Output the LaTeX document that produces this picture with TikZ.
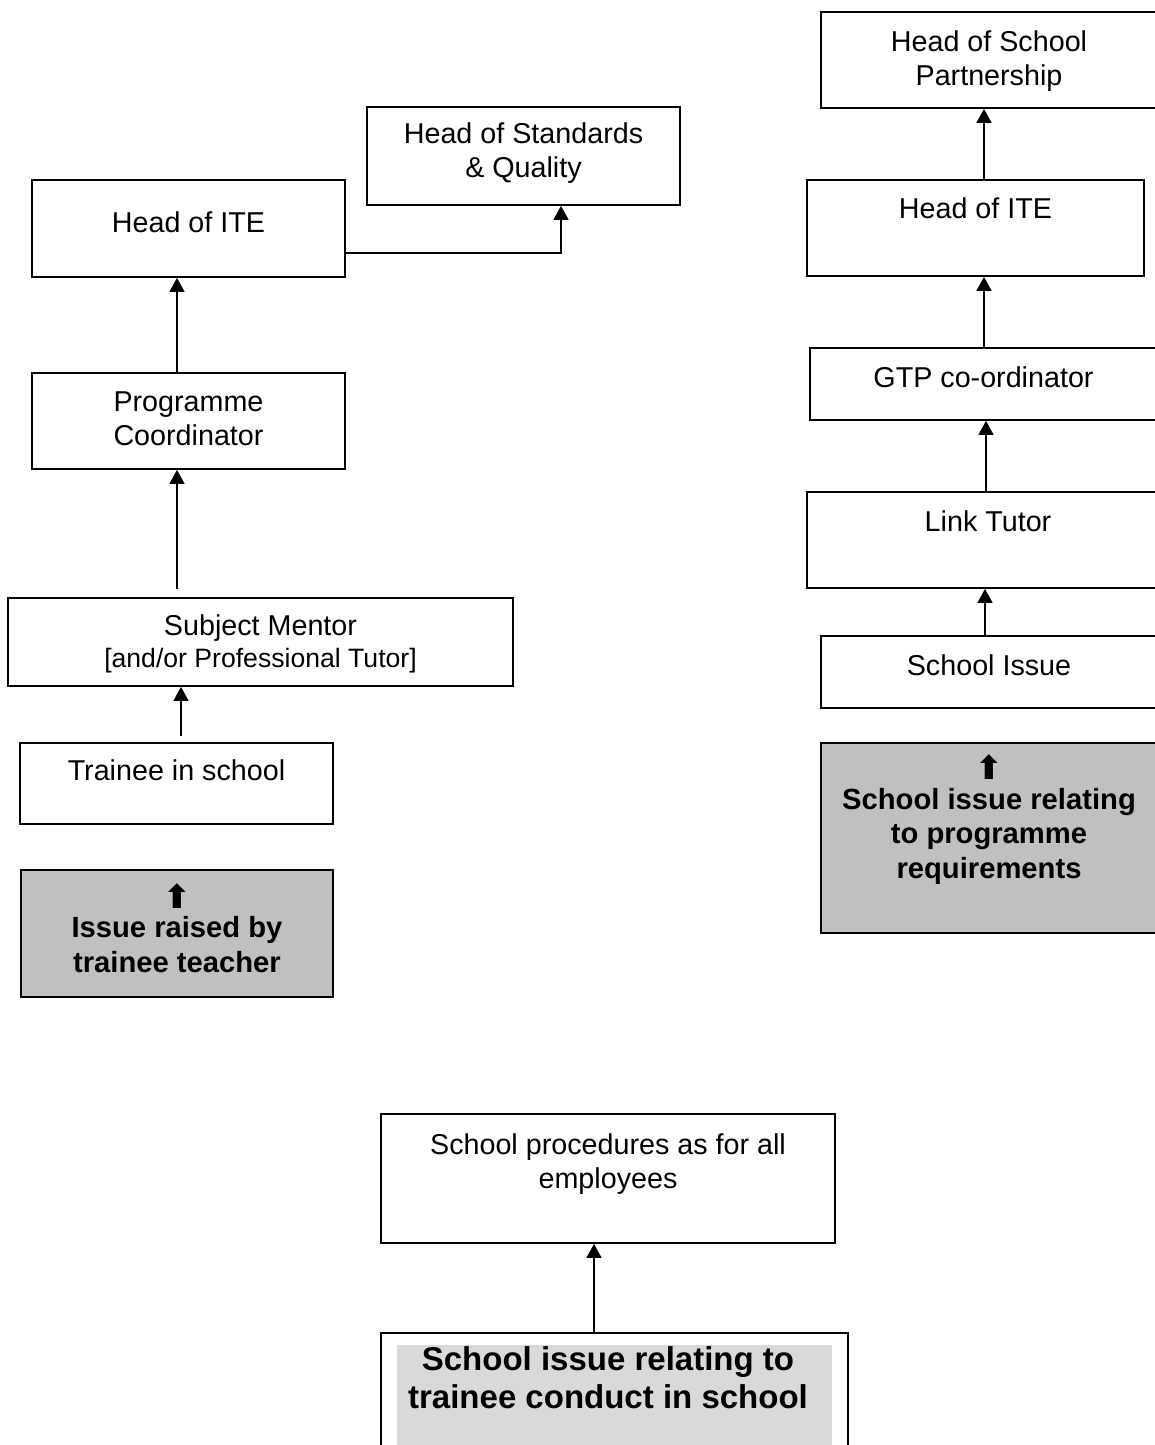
\documentclass[tikz,border=0pt]{standalone}
\usepackage{fontspec}
\setmainfont{Liberation Sans}
\newfontfamily\arrowfont{DejaVu Sans}
\usepackage{tikz}
\usetikzlibrary{arrows.meta,calc,positioning}

\definecolor{shade}{RGB}{192,192,192}
\definecolor{paleshade}{RGB}{217,217,217}

\tikzset{
  box/.style={draw, line width=1.8pt, inner sep=0pt},
  greybox/.style={box, fill=shade},
  txt/.style={anchor=base, align=center, inner sep=0pt, font=\fontsize{28.7}{34}\selectfont},
  boldtxt/.style={txt, font=\fontsize{29.2}{34.5}\selectfont\bfseries},
  link/.style={->, line width=1.6pt},
}
\newcommand{\uparr}{{\arrowfont\fontsize{33}{34}\selectfont ⬆}}

\begin{document}
\begin{tikzpicture}[x=1pt, y=-1pt, >={Triangle[length=14pt,width=15pt]}]
  \path[use as bounding box, clip] (0,0) rectangle (1155,1445);

  % left column: issue raised by trainee
  \node[box, minimum width=313pt, minimum height=98pt] (hsq) at (523.5,156) {};
  \node[txt] (hsqtxt) at (523.5,177) {Head of Standards\\\& Quality};
  \node[box, minimum width=313pt, minimum height=97pt] (hitel) at (188.5,228.5) {};
  \node[txt] (hiteltxt) at (188.5,232) {Head of ITE};
  \node[box, minimum width=313pt, minimum height=96pt] (pc) at (188.5,421) {};
  \node[txt] (pctxt) at (188.5,445) {Programme\\Coordinator};
  \node[box, minimum width=505pt, minimum height=88pt] (sm) at (260.5,642) {};
  \node[txt] (smtxt) at (260.5,667) {Subject Mentor\\[-2pt]{\fontsize{26.6}{32}\selectfont [and/or Professional Tutor]}};
  \node[box, minimum width=313pt, minimum height=81pt] (tr) at (176.5,783.5) {};
  \node[txt] (trtxt) at (176.5,780) {Trainee in school};
  \node[greybox, minimum width=312pt, minimum height=127pt] (isl) at (177,933.5) {};
  \node[boldtxt] (isltxt) at (177,972) {\uparr\\[-5pt]Issue raised by\\trainee teacher};

  \draw[link] ([yshift=-24.5pt]hitel.east) -| (hsq.south -| 561,0);
  \draw[link] (pc.north -| 177,0) -- (hitel.south -| 177,0);
  \draw[link] ([yshift=8pt]sm.north -| 177,0) -- (pc.south -| 177,0);
  \draw[link] ([yshift=6pt]tr.north -| 181,0) -- (sm.south -| 181,0);

  % right column: school issue on programme requirements
  \node[box, minimum width=336pt, minimum height=96pt] (hsp) at (989,60) {};
  \node[txt] (hsptxt) at (989,85) {Head of School\\Partnership};
  \node[box, minimum width=337pt, minimum height=96pt] (hiter) at (975.5,228) {};
  \node[txt] (hitertxt) at (975.5,218) {Head of ITE};
  \node[box, minimum width=347pt, minimum height=72pt] (gtp) at (983.5,384) {};
  \node[txt] (gtptxt) at (983.5,387) {GTP co-ordinator};
  \node[box, minimum width=362pt, minimum height=96pt] (lt) at (988,540) {};
  \node[txt] (lttxt) at (988,531) {Link Tutor};
  \node[box, minimum width=336pt, minimum height=72pt] (si) at (989,672) {};
  \node[txt] (sitxt) at (989,675) {School Issue};
  \node[greybox, minimum width=336pt, minimum height=190pt] (isr) at (989,838) {};
  \node[boldtxt] (isrtxt) at (989,878) {\uparr\\[-5pt]School issue relating\\to programme\\requirements};

  \draw[link] (hiter.north -| 984,0) -- (hsp.south -| 984,0);
  \draw[link] (gtp.north -| 984,0) -- (hiter.south -| 984,0);
  \draw[link] (lt.north -| 986,0) -- (gtp.south -| 986,0);
  \draw[link] (si.north -| 985,0) -- (lt.south -| 985,0);

  % bottom: school issue on trainee conduct
  \node[box, minimum width=454pt, minimum height=129pt] (sp) at (608,1178.5) {};
  \node[txt] (sptxt) at (608,1188) {School procedures as for all\\employees};
  \node[box, minimum width=467pt, minimum height=140pt] (cond) at (614.5,1403) {};
  \node[fill=paleshade, inner sep=0pt, minimum width=435pt, minimum height=120pt] (condfill) at (614.5,1405) {};
  \node[txt, font=\fontsize{33}{38}\selectfont\bfseries] (condtxt) at (608,1408) {School issue relating to\\trainee conduct in school};

  \draw[link] (cond.north -| 594,0) -- (sp.south -| 594,0);
\end{tikzpicture}
\end{document}
